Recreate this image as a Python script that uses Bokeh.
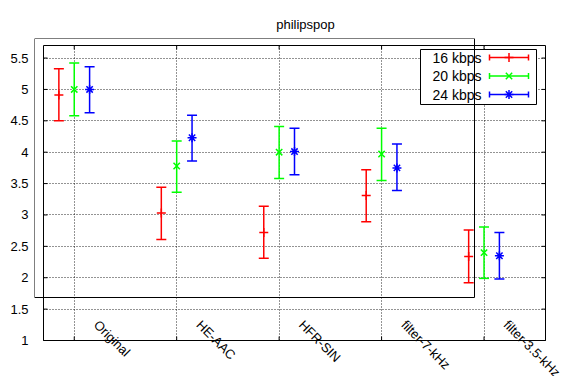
import math
from bokeh.plotting import figure
from bokeh.models import (Range1d, FixedTicker, Whisker, TeeHead, Grid,
                          ColumnDataSource, Label, BoxAnnotation, NumeralTickFormatter)
from bokeh.embed import file_html
from bokeh.resources import INLINE

# ---- data ----
categories = ["Original", "HE-AAC", "HFR-SIN", "filter-7-kHz", "filter-3.5-kHz"]
series_names = ["16 kbps", "20 kbps", "24 kbps"]
series_colors = ["#ff0000", "#00ff00", "#0000ff"]
series_markers = ["cross", "x", "asterisk"]

mean_16 = [4.91, 3.03, 2.72, 3.31, 2.34]
low_16 = [4.50, 2.61, 2.31, 2.89, 1.92]
high_16 = [5.33, 3.44, 3.14, 3.72, 2.76]

mean_20 = [5.00, 3.78, 4.00, 3.97, 2.40]
low_20 = [4.58, 3.36, 3.58, 3.55, 1.99]
high_20 = [5.42, 4.18, 4.41, 4.38, 2.81]

mean_24 = [5.00, 4.23, 4.01, 3.75, 2.35]
low_24 = [4.63, 3.86, 3.64, 3.39, 1.98]
high_24 = [5.36, 4.59, 4.38, 4.13, 2.72]

y_ticks = [1, 1.5, 2, 2.5, 3, 3.5, 4, 4.5, 5, 5.5]

# ---- layout constants (pixels) ----
W, H = 576, 376
PL, PR, PT, PB = 43, 545, 45, 340        # visible plot box
FL, FT = 34, 38                          # frame origin (room for the stray border)
X0, X1 = 0.7, 5.6                        # plot box x limits
Y0, Y1 = 1.0, 5.7                        # plot box y limits
SX = (PR - PL) / (X1 - X0)
SY = (PB - PT) / (Y1 - Y0)
OFFSETS = [-0.15, 0.0, 0.15]
FONT = "Liberation Sans"
FS = "13px"


def px2x(px):
    return X0 + (px - PL) / SX


def py2y(py):
    return Y0 + (PB - py) / SY


p = figure(width=W, height=H, output_backend="svg", toolbar_location=None,
           x_range=Range1d(px2x(FL), px2x(W)), y_range=Range1d(py2y(H), py2y(FT)),
           x_axis_location=None, y_axis_location="left",
           min_border_left=FL, min_border_right=0,
           min_border_top=FT, min_border_bottom=0,
           title="philipspop")
p.title.align = "center"
p.title.offset = -11
p.title.standoff = 14
p.title.text_font = FONT
p.title.text_font_size = FS
p.title.text_font_style = "normal"
p.title.text_color = "black"

p.outline_line_color = None
p.background_fill_color = "white"
p.border_fill_color = "white"

xt = FixedTicker(ticks=list(range(1, len(categories) + 1)))
yt = FixedTicker(ticks=y_ticks)

for ax in p.yaxis:
    ax.ticker = yt
    ax.formatter = NumeralTickFormatter(format="0.[0]")
    ax.major_label_text_font = FONT
    ax.major_label_text_font_size = FS
    ax.major_label_text_color = "black"
    ax.major_label_standoff = 0
    ax.axis_line_color = None
    ax.major_tick_line_color = None
    ax.minor_tick_line_color = None

# grids limited to the plot box
p.center = [c for c in p.center if not isinstance(c, Grid)]
has_cross = "cross_bounds" in Grid.properties()
grid_style = dict(grid_line_color="black", grid_line_alpha=0.85,
                  grid_line_dash="1 2", grid_line_width=1)
gx = Grid(dimension=0, ticker=xt, **grid_style)
gy = Grid(dimension=1, ticker=yt, **grid_style)
if has_cross:
    gx.cross_bounds = (Y0, Y1)
    gy.cross_bounds = (X0, X1)
    p.add_layout(gx)
    p.add_layout(gy)
else:
    p.segment(x0=xt.ticks, x1=xt.ticks, y0=[Y0] * len(xt.ticks), y1=[Y1] * len(xt.ticks),
              line_color="black", line_alpha=0.85, line_dash="1 2", level="underlay")
    p.segment(x0=[X0] * len(y_ticks), x1=[X1] * len(y_ticks), y0=y_ticks, y1=y_ticks,
              line_color="black", line_alpha=0.85, line_dash="1 2", level="underlay")

# inner tick marks on all four sides
TL = 4
p.segment(x0=[X0] * len(y_ticks), x1=[px2x(PL + TL)] * len(y_ticks), y0=y_ticks, y1=y_ticks,
          line_color="black", line_width=1)
p.segment(x0=[px2x(PR - TL)] * len(y_ticks), x1=[X1] * len(y_ticks), y0=y_ticks, y1=y_ticks,
          line_color="black", line_width=1)
p.segment(x0=xt.ticks, x1=xt.ticks, y0=[Y0] * len(xt.ticks), y1=[py2y(PB - TL)] * len(xt.ticks),
          line_color="black", line_width=1)
p.segment(x0=xt.ticks, x1=xt.ticks, y0=[py2y(PT + TL)] * len(xt.ticks), y1=[Y1] * len(xt.ticks),
          line_color="black", line_width=1)

# plot box border
p.add_layout(BoxAnnotation(left=X0, right=X1, bottom=Y0, top=Y1, fill_alpha=0,
                           line_color="black", line_alpha=1.0, line_width=1))

# ---- legend box (under the samples, over the grid) ----
legend_box = BoxAnnotation(left=px2x(420), right=px2x(536), top=py2y(49), bottom=py2y(104),
                           fill_color="white", fill_alpha=1.0, line_color="black",
                           line_alpha=1.0, line_width=1, level="underlay")
p.add_layout(legend_box)

# ---- error bars ----
means = [mean_16, mean_20, mean_24]
lows = [low_16, low_20, low_24]
highs = [high_16, high_20, high_24]
for s in range(3):
    c = series_colors[s]
    xs = [i + 1 + OFFSETS[s] for i in range(len(categories))]
    src = ColumnDataSource(dict(x=xs, m=means[s], lo=lows[s], hi=highs[s]))
    w = Whisker(base="x", lower="lo", upper="hi", source=src,
                line_color=c, line_width=1.5,
                upper_head=TeeHead(size=10, line_color=c, line_width=1.5),
                lower_head=TeeHead(size=10, line_color=c, line_width=1.5))
    p.add_layout(w)
    p.scatter("x", "m", source=src, marker=series_markers[s], size=9,
              line_color=c, line_width=1.5)

# ---- legend entries (gnuplot style: text then sample) ----
row_py = [57, 75.5, 94]
for s in range(3):
    c = series_colors[s]
    yv = py2y(row_py[s])
    p.add_layout(Label(x=px2x(481), y=yv, text=series_names[s], text_align="right",
                       text_baseline="middle", text_font=FONT, text_font_size="14px",
                       text_color="black"))
    lsrc = ColumnDataSource(dict(y=[yv], x0=[px2x(489)], x1=[px2x(528)], xm=[px2x(508.5)]))
    p.add_layout(Whisker(dimension="width", base="y", lower="x0", upper="x1", source=lsrc,
                         line_color=c, line_width=1.5,
                         upper_head=TeeHead(size=6, line_color=c, line_width=1.5),
                         lower_head=TeeHead(size=6, line_color=c, line_width=1.5)))
    p.scatter("xm", "y", source=lsrc, marker=series_markers[s], size=9,
              line_color=c, line_width=1.5)

# stray outer border (as in the original image)
p.add_layout(BoxAnnotation(left=px2x(34), right=px2x(474), top=py2y(38), bottom=py2y(297),
                           fill_alpha=0, line_color="black", line_alpha=1.0, line_width=1))

# ---- rotated category labels ----
for i, cat in enumerate(categories):
    p.add_layout(Label(x=i + 1, y=Y0, x_offset=22, y_offset=18, text=cat,
                       angle=-math.pi / 4, text_align="left", text_baseline="middle",
                       text_font=FONT, text_font_size=FS, text_color="black"))

open("out.html", "w").write(file_html(p, INLINE))
